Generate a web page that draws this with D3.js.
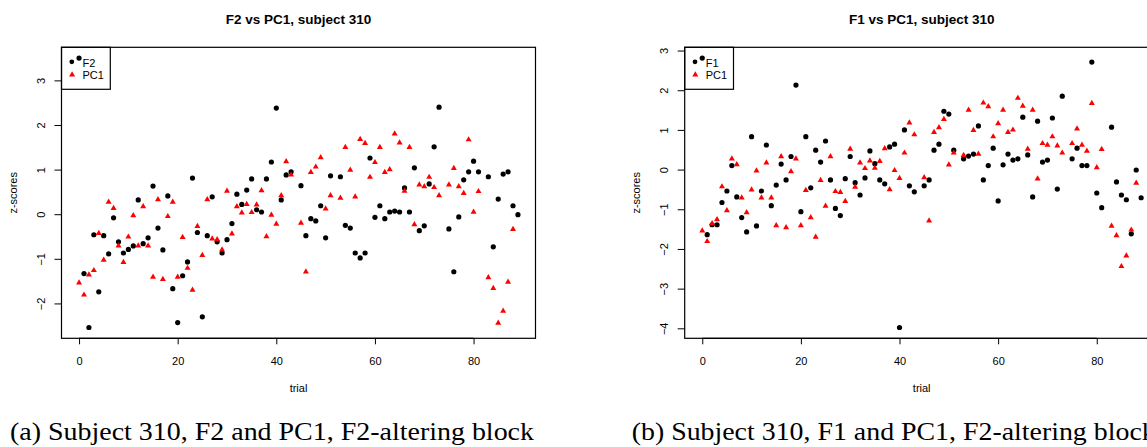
<!DOCTYPE html>
<html>
<head>
<meta charset="utf-8">
<script src="https://cdn.jsdelivr.net/npm/d3@7"></script>
<style>
  html, body { margin: 0; padding: 0; background: #fff; }
  svg { display: block; }
</style>
</head>
<body>
<svg id="chart" width="1147" height="447"></svg>
<script>
// ---------- DATA ----------
const trials = d3.range(0, 90);
// PC1 z-scores (identical in both panels); null = no observation
const pc1 = [
  -1.53, -1.80, -1.35, -1.25, -0.42, -1.02, 0.28, 0.14, -0.70, -1.07,
  -0.50, -0.02, -0.70, 0.18, -0.70, -1.40, 0.34, -1.45, -0.04, 0.28,
  -1.40, -0.51, -1.20, -1.69, -0.26, -0.91, 0.34, -0.54, -0.56, -0.79,
  0.53, -0.43, 0.18, 0.04, 0.23, 0.05, 0.22, 0.54, -0.49, -0.01,
  -0.21, 0.43, 1.19, 0.89, null, -0.19, -1.28, 0.95, 1.07, 1.28,
  0.13, 0.43, null, 0.37, 1.51, 1.00, 0.40, 1.69, 1.60, 0.84,
  1.17, 1.51, 0.95, 1.01, 1.81, 1.61, 0.53, 1.51, -0.22, 0.67,
  0.63, 0.84, 0.61, 0.43, null, 0.67, 1.04, 0.63, 0.48, 1.68,
  0.06, 0.52, null, -1.41, -1.65, -2.43, -2.16, -1.51, -0.33, null
];
const f2 = [
  3.50, -1.33, -2.54, -0.46, -1.74, -0.48, -0.89, -0.08, -0.62, -0.87,
  -0.79, -0.71, 0.32, -0.66, -0.53, 0.63, -0.31, -0.80, 0.41, -1.67,
  -2.43, -1.38, -1.07, 0.81, -0.41, -2.30, -0.48, 0.39, -0.62, -0.87,
  -0.57, -0.21, 0.45, 0.22, 0.54, 0.79, 0.10, 0.05, 0.79, 1.17,
  2.38, 0.32, 0.88, 0.95, null, 0.64, -0.48, -0.10, -0.15, 0.19,
  -0.53, 0.86, null, 0.84, -0.25, -0.31, -0.87, -0.98, -0.87, 1.26,
  -0.07, 0.19, -0.10, 0.05, 0.07, 0.05, 0.59, 0.05, 1.04, -0.37,
  -0.26, 0.68, 1.51, 2.40, null, -0.33, -1.29, -0.06, 0.77, 0.95,
  1.19, 0.95, null, 0.84, -0.73, 0.34, 0.90, 0.95, 0.19, -0.01
];
const f1 = [
  2.81, -1.64, -1.39, -1.39, -0.83, -0.54, 0.10, -0.69, -1.21, -1.57,
  0.83, -1.42, -0.54, 0.62, -0.91, -0.39, 0.14, -0.26, 0.33, 2.13,
  -1.06, 0.83, -0.46, 0.49, 0.19, 0.72, -0.26, -0.98, -1.16, -0.23,
  0.33, -0.33, -0.64, -0.21, 0.47, 0.15, -0.26, -0.36, 0.57, 0.64,
  -3.98, 1.00, -0.41, -0.56, null, -0.41, -0.26, 0.49, 0.64, 1.47,
  1.40, 0.49, null, 0.27, 0.34, 0.39, 1.10, -0.26, 0.10, 0.54,
  -0.79, 0.12, 0.39, 0.24, 0.27, 1.32, 0.37, -0.69, 1.22, 0.19,
  0.24, 1.30, -0.49, 1.85, null, 0.27, 0.54, 0.10, 0.10, 2.71,
  -0.59, -0.96, null, 1.07, -0.31, -0.64, -0.76, -1.62, -0.01, -0.71
];
const xTicks = [0, 20, 40, 60, 80];
const yTicksA = [-2, -1, 0, 1, 2, 3];
const yTicksB = [-4, -3, -2, -1, 0, 1, 2, 3];
const titles = ["F2 vs PC1, subject 310", "F1 vs PC1, subject 310"];
const seriesNames = [["F2", "PC1"], ["F1", "PC1"]];
const captions = [
  "(a) Subject 310, F2 and PC1, F2-altering block",
  "(b) Subject 310, F1 and PC1, F2-altering block"
];

// ---------- LAYOUT ----------
const svg = d3.select("#chart");
const SANS = "'Liberation Sans', Arial, Helvetica, sans-serif";
const boxTop = 47.3, boxBottom = 338.3, boxW = 474;

function padded(ext) {
  const r = ext[1] - ext[0];
  return [ext[0] - 0.04 * r, ext[1] + 0.04 * r];
}

function panel(cfg) {
  const { left, fSeries, yTicks, title, names, caption, capX } = cfg;
  const right = left + boxW;
  const g = svg.append("g");

  const x = d3.scaleLinear().domain(padded(d3.extent(trials))).range([left, right]);
  const allY = fSeries.concat(pc1).filter(v => v != null);
  const y = d3.scaleLinear().domain(padded(d3.extent(allY))).range([boxBottom, boxTop]);

  // title
  g.append("text")
    .attr("x", (left + right) / 2).attr("y", 24.3)
    .attr("text-anchor", "middle")
    .style("font-family", SANS).style("font-weight", "bold").style("font-size", "13.5px")
    .text(title);

  // x axis
  const xa = g.append("g").attr("transform", `translate(0,${boxBottom})`)
    .call(d3.axisBottom(x).tickValues(xTicks).tickSize(6).tickSizeOuter(0).tickFormat(d3.format("d")));
  xa.select(".domain").remove();
  xa.selectAll("line").attr("stroke", "#000").attr("stroke-width", 1);
  xa.selectAll("text").attr("y", 26.3).attr("dy", null)
    .style("font-family", SANS).style("font-size", "11px").attr("fill", "#000");
  g.append("line")
    .attr("x1", x(xTicks[0])).attr("x2", x(xTicks[xTicks.length - 1]))
    .attr("y1", boxBottom).attr("y2", boxBottom)
    .attr("stroke", "#000").attr("stroke-width", 1.2);

  // y axis
  const ya = g.append("g").attr("transform", `translate(${left},0)`)
    .call(d3.axisLeft(y).tickValues(yTicks).tickSize(7).tickSizeOuter(0)
      .tickFormat(d => d < 0 ? "\u2212" + Math.abs(d) : String(d)));
  ya.select(".domain").remove();
  ya.selectAll("line").attr("stroke", "#000").attr("stroke-width", 1);
  ya.selectAll("text")
    .attr("transform", "rotate(-90)")
    .attr("x", 0).attr("y", -20.8).attr("dy", "0.36em")
    .attr("text-anchor", "middle")
    .style("font-family", SANS).style("font-size", "11px").attr("fill", "#000");

  // axis titles
  g.append("text")
    .attr("x", (left + right) / 2).attr("y", 392)
    .attr("text-anchor", "middle")
    .style("font-family", SANS).style("font-size", "11px")
    .text("trial");
  g.append("text")
    .attr("transform", `translate(${left - 48.3},${(boxTop + boxBottom) / 2}) rotate(-90)`)
    .attr("dy", "0.36em")
    .attr("text-anchor", "middle")
    .style("font-family", SANS).style("font-size", "11px")
    .text("z-scores");

  // points: F series (black dots)
  const fd = trials.map((t, i) => ({ t, v: fSeries[i] })).filter(d => d.v != null);
  g.append("g").selectAll("circle").data(fd).join("circle")
    .attr("cx", d => x(d.t)).attr("cy", d => y(d.v)).attr("r", 2.6)
    .attr("fill", "#000");

  // points: PC1 (red triangles)
  const tri = "M0,-3.1L3,2.1L-3,2.1Z";
  const pd = trials.map((t, i) => ({ t, v: pc1[i] })).filter(d => d.v != null);
  g.append("g").selectAll("path").data(pd).join("path")
    .attr("d", tri)
    .attr("transform", d => `translate(${x(d.t)},${y(d.v)})`)
    .attr("fill", "#ff0000");

  // plot box
  g.append("rect")
    .attr("x", left).attr("y", boxTop)
    .attr("width", boxW).attr("height", boxBottom - boxTop)
    .attr("fill", "none").attr("stroke", "#000").attr("stroke-width", 1.2);

  // legend
  const lg = g.append("g").attr("transform", `translate(${left},${boxTop})`);
  lg.append("rect").attr("x", 0).attr("y", 0).attr("width", 48.8).attr("height", 42)
    .attr("fill", "none").attr("stroke", "#000").attr("stroke-width", 1.2);
  lg.append("circle").attr("cx", 10.3).attr("cy", 14.5).attr("r", 2.4).attr("fill", "#000");
  lg.append("path").attr("d", tri).attr("transform", "translate(10.6,27)").attr("fill", "#ff0000");
  lg.append("text").attr("x", 21).attr("y", 15.4).attr("dy", "0.36em")
    .style("font-family", SANS).style("font-size", "11px").text(names[0]);
  lg.append("text").attr("x", 21).attr("y", 27.4).attr("dy", "0.36em")
    .style("font-family", SANS).style("font-size", "11px").text(names[1]);

  // caption
  g.append("text")
    .attr("x", capX).attr("y", 439.5)
    .attr("textLength", 524).attr("lengthAdjust", "spacingAndGlyphs")
    .style("font-family", "'Liberation Serif', 'Times New Roman', serif")
    .style("font-size", "25px")
    .text(caption);
}

panel({ left: 61.5, fSeries: f2, yTicks: yTicksA, title: titles[0], names: seriesNames[0], caption: captions[0], capX: 10 });
panel({ left: 684.7, fSeries: f1, yTicks: yTicksB, title: titles[1], names: seriesNames[1], caption: captions[1], capX: 631.7 });
</script>
</body>
</html>
